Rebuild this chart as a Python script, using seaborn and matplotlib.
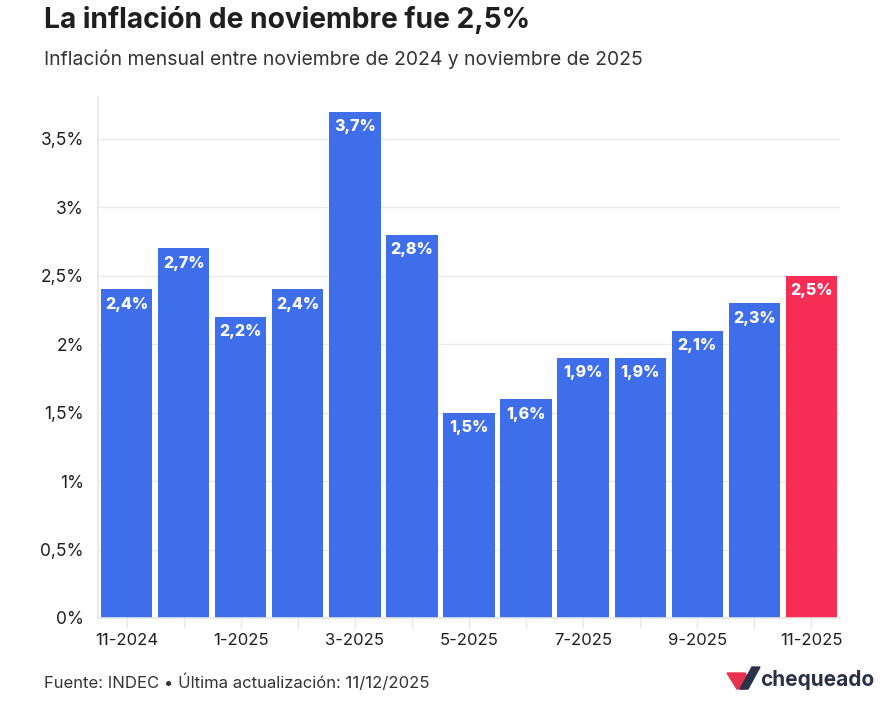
import matplotlib
matplotlib.use("Agg")
import matplotlib.pyplot as plt
import seaborn as sns
import pandas as pd
from matplotlib.patches import Polygon

months = ["11-2024", "12-2024", "1-2025", "2-2025", "3-2025", "4-2025", "5-2025",
          "6-2025", "7-2025", "8-2025", "9-2025", "10-2025", "11-2025"]
values = [2.4, 2.7, 2.2, 2.4, 3.7, 2.8, 1.5, 1.6, 1.9, 1.9, 2.1, 2.3, 2.5]
highlight = ["base"] * 12 + ["last"]
yticks = [0, 0.5, 1, 1.5, 2, 2.5, 3, 3.5]
ytick_labels = ["0%", "0,5%", "1%", "1,5%", "2%", "2,5%", "3%", "3,5%"]

title = "La inflación de noviembre fue 2,5%"
subtitle = "Inflación mensual entre noviembre de 2024 y noviembre de 2025"
source = "Fuente: INDEC • Última actualización: 11/12/2025"

BLUE = "#3E6EEA"
RED = "#F62D55"
TXT = "#1f1f1f"

sns.set_theme(style="white")
plt.rcParams["font.family"] = ["Inter", "DejaVu Sans"]

W, H = 885, 702
fig = plt.figure(figsize=(W / 100, H / 100), dpi=100)
fig.patch.set_facecolor("white")

def px(x0, y0, x1, y1):
    return [x0 / W, 1 - y1 / H, (x1 - x0) / W, (y1 - y0) / H]

ax = fig.add_axes(px(98, 97, 840, 618))
df = pd.DataFrame({"mes": months, "valor": values, "grupo": highlight})
sns.barplot(data=df, x="mes", y="valor", hue="grupo", palette={"base": BLUE, "last": RED},
            width=0.9, legend=False, ax=ax, saturation=1, edgecolor="none")

ax.set_xlim(-0.5, len(months) - 0.5)
ax.set_ylim(0, 3.806)
ax.set_yticks(yticks)
ax.set_yticklabels(ytick_labels)
ax.set_xticks(range(len(months)))
ax.set_xticklabels([m if i % 2 == 0 else "" for i, m in enumerate(months)])
ax.set_xlabel("")
ax.set_ylabel("")
ax.grid(axis="y", color="#e9e9e9", linewidth=1)
ax.set_axisbelow(True)
for s in ["top", "right"]:
    ax.spines[s].set_visible(False)
ax.spines["left"].set_color("#e6e6e6")
ax.spines["left"].set_linewidth(1.2)
ax.spines["bottom"].set_color("#e6e6e6")
ax.spines["bottom"].set_linewidth(1.2)
ax.tick_params(axis="y", length=0, labelsize=12.5, labelcolor=TXT, pad=10)
ax.tick_params(axis="x", length=7, color="#e6e6e6", width=1, labelsize=12,
               labelcolor=TXT, pad=4, bottom=True)

for i, v in enumerate(values):
    ax.text(i, v - 0.055, f"{v:.1f}%".replace(".", ","), ha="center", va="top",
            color="white", fontsize=11.5, fontweight="heavy")

fig.text(44 / W, 1 - 20 / H, title, fontsize=20.3, fontweight="bold", color=TXT,
         ha="left", va="center")
fig.text(44 / W, 1 - 59 / H, subtitle, fontsize=13.9, color="#333333", ha="left", va="center")
fig.text(44 / W, 1 - 682 / H, source, fontsize=12, color="#333333", ha="left", va="center")

# logo
lax = fig.add_axes([0, 0, 1, 1], facecolor="none")
lax.set_xlim(0, W)
lax.set_ylim(H, 0)
lax.axis("off")
lax.add_patch(Polygon([(727, 673), (745, 673), (750, 681), (745, 689), (737, 689)],
                      closed=True, color="#E8324F"))
lax.add_patch(Polygon([(740, 689), (752, 667), (760, 667), (748, 689)],
                      closed=True, color="#2B3247"))
lax.text(760, 680, "chequeado", fontsize=15, fontweight="bold", color="#2B3247",
         ha="left", va="center")

fig.savefig("out.png", dpi=100, facecolor="white")
